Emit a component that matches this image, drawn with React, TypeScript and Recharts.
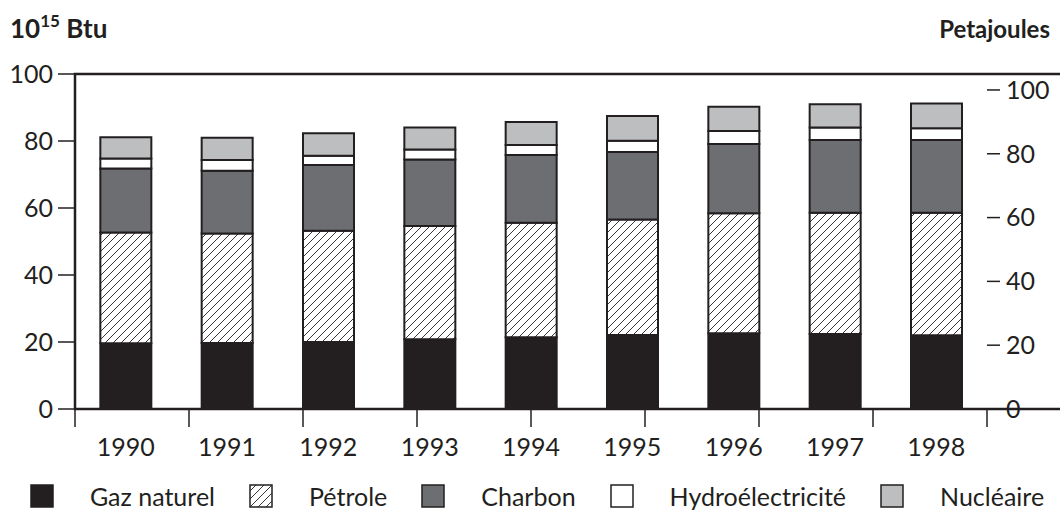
import { BarChart, Bar, XAxis, YAxis, Legend, ReferenceArea } from 'recharts'

const years = ['1990', '1991', '1992', '1993', '1994', '1995', '1996', '1997', '1998']
const gaz = [19.6, 19.7, 20.0, 20.8, 21.4, 22.1, 22.6, 22.4, 22.0]
const petrole = [33.1, 32.7, 33.2, 33.8, 34.2, 34.5, 35.8, 36.2, 36.6]
const charbon = [19.1, 18.7, 19.6, 19.9, 20.2, 20.1, 20.7, 21.7, 21.7]
const hydro = [3.0, 3.2, 2.8, 3.0, 3.0, 3.4, 3.9, 3.7, 3.5]
const nucleaire = [6.3, 6.7, 6.7, 6.5, 6.9, 7.4, 7.2, 7.0, 7.4]

const btuTicks = [0, 20, 40, 60, 80, 100]
const pjTicks = [0, 20, 40, 60, 80, 100]
const boundaries = [0, 1, 2, 3, 4, 5, 6, 7, 8, 9]

const INK = '#231f20'
const FONT = 'Lato, sans-serif'

const series = [
  { key: 'gaz', name: 'Gaz naturel', fill: INK },
  { key: 'petrole', name: 'Pétrole', fill: 'url(#hatch)' },
  { key: 'charbon', name: 'Charbon', fill: '#6d6e71' },
  { key: 'hydro', name: 'Hydroélectricité', fill: '#ffffff' },
  { key: 'nucleaire', name: 'Nucléaire', fill: '#bcbec0' },
]

const data = years.map((year, i) => ({
  year,
  gaz: gaz[i],
  petrole: petrole[i],
  charbon: charbon[i],
  hydro: hydro[i],
  nucleaire: nucleaire[i],
}))

const tickStyle = { fontSize: 25, fontFamily: FONT, fill: INK }

function LegendBox() {
  return (
    <div style={{ height: 40, display: 'flex', alignItems: 'center', justifyContent: 'center', gap: 34, fontFamily: FONT, fontSize: 25, color: INK, paddingLeft: 14 }}>
      {series.map(s => (
        <div key={s.key} style={{ display: 'flex', alignItems: 'center', gap: 36 }}>
          <svg width={24} height={24} style={{ display: 'block' }}>
            <rect x={1} y={1} width={22} height={22} fill={s.fill} stroke={INK} strokeWidth={1.5} />
          </svg>
          <span>{s.name}</span>
        </div>
      ))}
    </div>
  )
}

export default function App() {
  return (
    <div style={{ position: 'absolute', left: 0, top: 0, width: 1060, height: 525, background: '#fff' }}>
      <BarChart
        width={1060}
        height={525}
        data={data}
        margin={{ top: 74, right: 0, bottom: 9, left: 0 }}
        barCategoryGap="25%"
      >
        <defs>
          <pattern id="hatch" patternUnits="userSpaceOnUse" width={8} height={8}>
            <rect width={8} height={8} fill="#fff" />
            <path d="M-2,2 l4,-4 M0,8 l8,-8 M6,10 l4,-4" stroke={INK} strokeWidth={0.9} />
          </pattern>
        </defs>
        <text x={10} y={38} fontFamily={FONT} fontWeight={700} fontSize={26} fill={INK}>
          10<tspan fontSize={17} dy={-11}>15</tspan><tspan dy={11}> Btu</tspan>
        </text>
        <text x={1050} y={38} textAnchor="end" fontFamily={FONT} fontWeight={700} fontSize={24} fill={INK}>
          Petajoules
        </text>
        <XAxis
          xAxisId="years"
          dataKey="year"
          height={66}
          axisLine={false}
          tickLine={false}
          tickSize={0}
          tickMargin={28}
          tick={tickStyle}
          interval={0}
        />
        <XAxis
          xAxisId="bounds"
          type="number"
          domain={[0, 9]}
          ticks={boundaries}
          allowDataOverflow
          height={1}
          axisLine={false}
          tickSize={18}
          tickFormatter={() => ''}
          tickLine={{ stroke: INK, strokeWidth: 1.5 }}
        />
        <YAxis
          yAxisId="left"
          width={75}
          domain={[0, 100]}
          ticks={btuTicks}
          axisLine={false}
          tickSize={17}
          tickMargin={5}
          tick={tickStyle}
          tickLine={{ stroke: INK, strokeWidth: 1.5 }}
        />
        <YAxis
          yAxisId="right"
          orientation="right"
          width={73}
          domain={[0, 105]}
          allowDataOverflow
          ticks={pjTicks}
          axisLine={false}
          tickSize={13}
          tickMargin={6}
          tick={{ ...tickStyle, textAnchor: 'start' }}
          tickLine={{ stroke: INK, strokeWidth: 1.5 }}
        />
        {series.map(s => (
          <Bar
            key={s.key}
            dataKey={s.key}
            name={s.name}
            stackId="a"
            xAxisId="years"
            yAxisId="left"
            fill={s.fill}
            stroke={INK}
            strokeWidth={2}
            isAnimationActive={false}
          />
        ))}
        <ReferenceArea
          xAxisId="bounds"
          yAxisId="left"
          x1={0}
          x2={9}
          y1={0}
          y2={100}
          fill="none"
          stroke={INK}
          strokeWidth={2.5}
          ifOverflow="visible"
        />
        <Legend verticalAlign="bottom" height={40} content={() => <LegendBox />} />
      </BarChart>
    </div>
  )
}
